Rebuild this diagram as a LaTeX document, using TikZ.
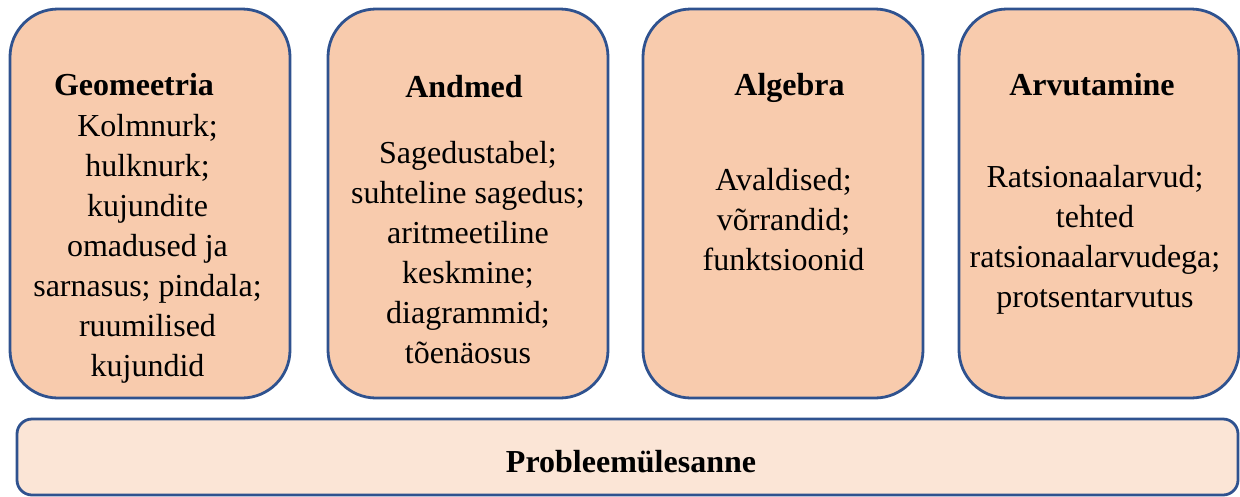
\documentclass[tikz,border=0pt]{standalone}
\usepackage{fontspec}
\setmainfont{Liberation Serif}
\definecolor{boxfill}{HTML}{F8CBAD}
\definecolor{basefill}{HTML}{FBE5D6}
\definecolor{boxline}{HTML}{2F528F}
\newcommand{\bigtext}{\fontsize{32}{40}\selectfont}

\begin{document}
\begin{tikzpicture}[x=1pt, y=-1pt,
        area/.style={draw=boxline, line width=2.8pt, fill=boxfill, rounded corners=48pt, minimum width=280pt, minimum height=389pt, inner sep=0pt},
        head/.style={font=\bigtext\bfseries, anchor=base, inner sep=0pt},
        body/.style={font=\bigtext, align=center, anchor=north, inner sep=0pt}]
            \useasboundingbox (0, 0) rectangle (1240, 496);
            \node[area] (geo) at (150, 203.5) {};
            \node[area] (andmed) at (468, 203.5) {};
            \node[area] (algebra) at (783, 203.5) {};
            \node[area] (arvut) at (1099, 203.5) {};
            \node[area, fill=basefill, rounded corners=15pt, minimum width=1221pt, minimum height=76pt] (probleem) at (627.5, 457) {};
            % pealkirjad
            \node[head] (geo-head) at (134, 95) {Geomeetria};
            \node[head] (andmed-head) at (464, 97) {Andmed};
            \node[head] (algebra-head) at (789.5, 95) {Algebra};
            \node[head] (arvut-head) at (1092, 95) {Arvutamine};
            \node[head] (probleem-head) at (631, 472) {Probleemülesanne};
            % teemad
            \node[body] (geo-body) at (147.5, 114) {Kolmnurk;\\ hulknurk;\\ kujundite\\ omadused ja\\ sarnasus; pindala;\\ ruumilised\\ kujundid};
            \node[body] (andmed-body) at (468, 141) {Sagedustabel;\\ suhteline sagedus;\\ aritmeetiline\\ keskmine;\\ diagrammid;\\ tõenäosus};
            \node[body] (algebra-body) at (783.5, 168) {Avaldised;\\ võrrandid;\\ funktsioonid};
            \node[body] (arvut-body) at (1095, 165) {Ratsionaalarvud;\\ tehted\\ ratsionaalarvudega;\\ protsentarvutus};
        \end{tikzpicture}
\end{document}
